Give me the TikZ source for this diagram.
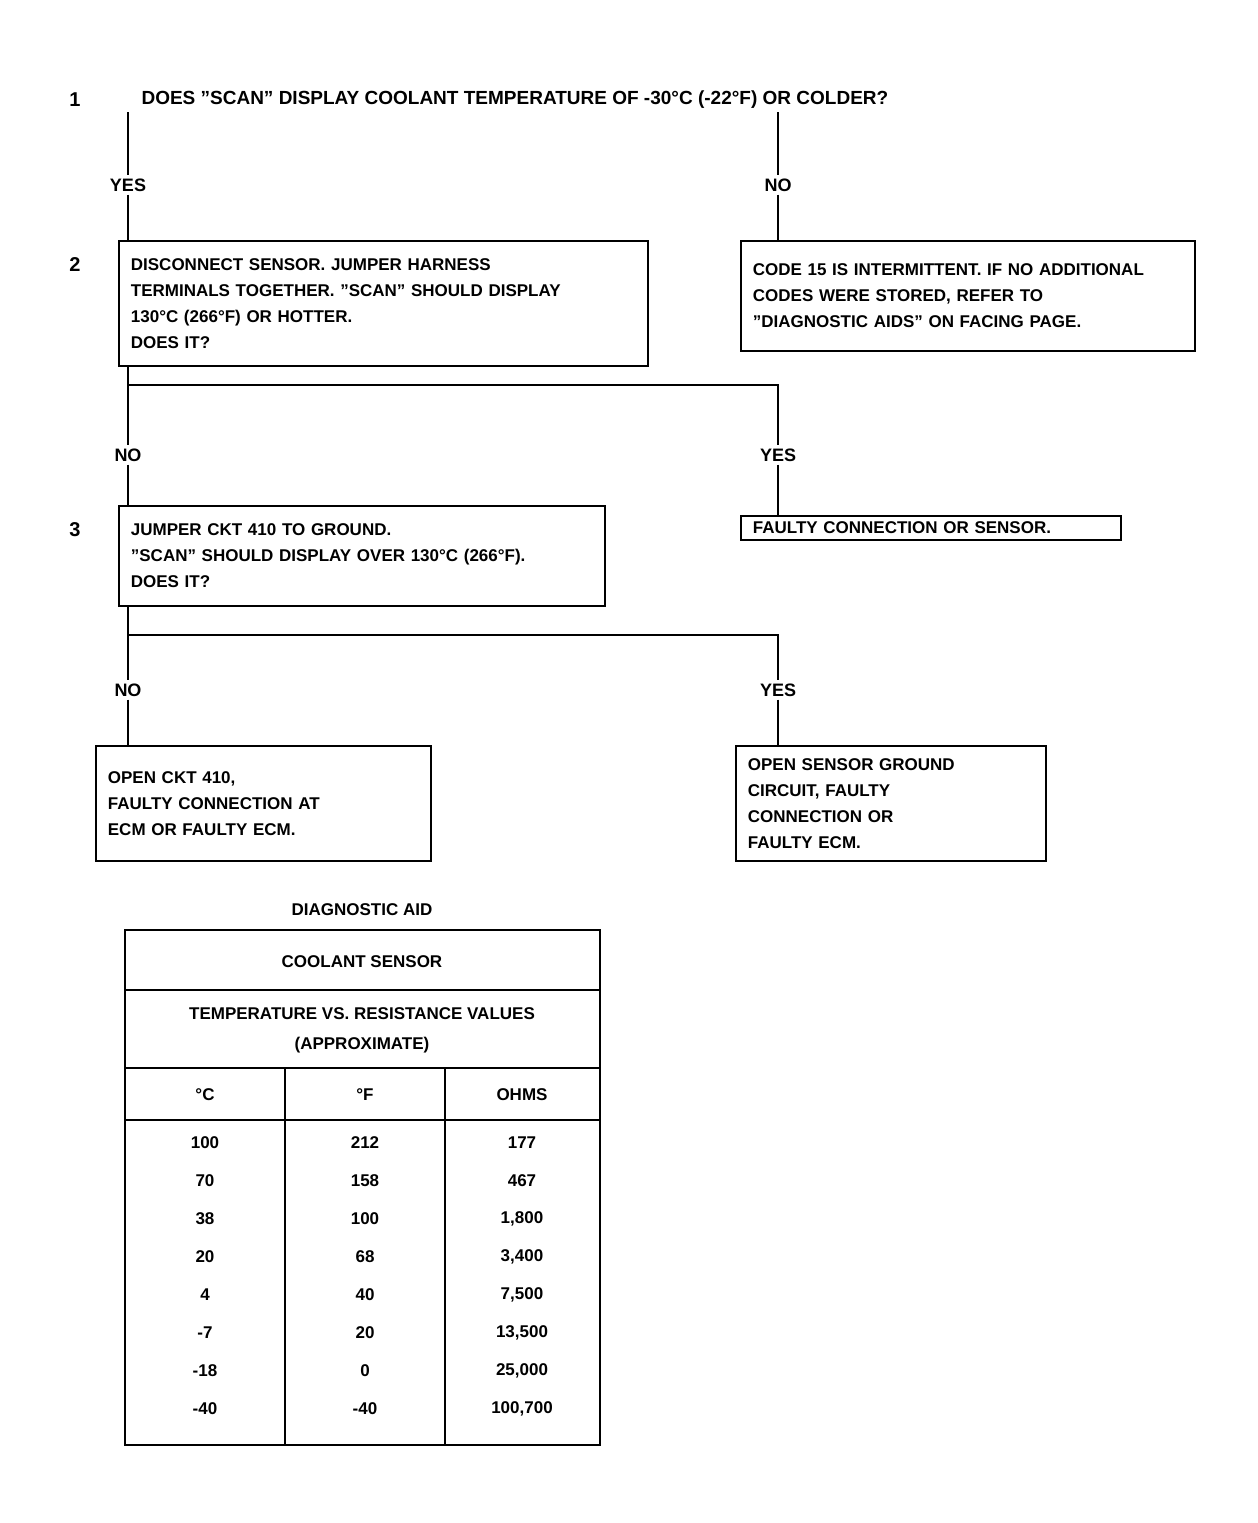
\documentclass[tikz,border=0pt]{standalone}
\usepackage{fontspec}
\setmainfont{Liberation Sans}
\usetikzlibrary{positioning}

\tikzset{
  chartbox/.style={draw, line width=1.8pt, align=left, anchor=north west,
    inner xsep=12pt, inner ysep=8pt, font=\bfseries\fontsize{17}{26}\selectfont},
  yesno/.style={fill=white, inner sep=3pt, font=\bfseries\fontsize{18}{20}\selectfont},
  stepnum/.style={font=\bfseries\fontsize{20}{22}\selectfont},
  flow/.style={line width=1.8pt},
  cell/.style={font=\bfseries\fontsize{17}{20}\selectfont}
}

\begin{document}
\begin{tikzpicture}[x=1pt, y=-1pt]
    \useasboundingbox[fill=white] (0,0) rectangle (1258,1523);

    % question 1 and its branches
    \node[stepnum] (s1) at (75,100) {1};
    \node[anchor=west, font=\bfseries\fontsize{19}{24}\selectfont] (q1) at (138,100)
        {DOES "SCAN" DISPLAY COOLANT TEMPERATURE OF -30°C (-22°F) OR COLDER?};
    \node[yesno] (y1) at (128,185) {YES};
    \node[yesno] (n1) at (778,185) {NO};

    \node[stepnum] (s2) at (75,265) {2};
    \node[chartbox, text width=505pt, minimum height=125pt] (b1) at (118,240)
        {DISCONNECT SENSOR. JUMPER HARNESS\\
         TERMINALS TOGETHER. "SCAN" SHOULD DISPLAY\\
         130°C (266°F) OR HOTTER.\\
         DOES IT?};
    \node[chartbox, text width=430pt, minimum height=110pt] (r1) at (740,240)
        {CODE 15 IS INTERMITTENT. IF NO ADDITIONAL\\
         CODES WERE STORED, REFER TO\\
         "DIAGNOSTIC AIDS" ON FACING PAGE.};

    \draw[flow] (q1.south -| y1) -- (y1.north);
    \draw[flow] (y1.south) -- (y1 |- b1.north);
    \draw[flow] (q1.south -| n1) -- (n1.north);
    \draw[flow] (n1.south) -- (n1 |- r1.north);

    % question 2 and its branches
    \coordinate (bar1) at (0,385);
    \node[yesno] (n2) at (128,455) {NO};
    \node[yesno] (y2) at (778,455) {YES};

    \node[stepnum] (s3) at (75,530) {3};
    \node[chartbox, text width=462pt, minimum height=100pt] (b2) at (118,505)
        {JUMPER CKT 410 TO GROUND.\\
         "SCAN" SHOULD DISPLAY OVER 130°C (266°F).\\
         DOES IT?};
    \node[chartbox, inner ysep=6pt, text width=356pt] (r2) at (740,515)
        {FAULTY CONNECTION OR SENSOR.};

    \draw[flow] (b1.south -| n2) -- (bar1 -| n2) -- (n2.north);
    \draw[flow] (bar1 -| n2) -- (bar1 -| y2) -- (y2.north);
    \draw[flow] (n2.south) -- (n2 |- b2.north);
    \draw[flow] (y2.south) -- (y2 |- r2.north);

    % question 3 and its branches
    \coordinate (bar2) at (0,635);
    \node[yesno] (n3) at (128,690) {NO};
    \node[yesno] (y3) at (778,690) {YES};

    \node[chartbox, text width=311pt, minimum height=115pt] (b3) at (95,745)
        {OPEN CKT 410,\\
         FAULTY CONNECTION AT\\
         ECM OR FAULTY ECM.};
    \node[chartbox, text width=286pt, minimum height=115pt] (r3) at (735,745)
        {OPEN SENSOR GROUND\\
         CIRCUIT, FAULTY\\
         CONNECTION OR\\
         FAULTY ECM.};

    \draw[flow] (b2.south -| n3) -- (bar2 -| n3) -- (n3.north);
    \draw[flow] (bar2 -| n3) -- (bar2 -| y3) -- (y3.north);
    \draw[flow] (n3.south) -- (n3 |- b3.north);
    \draw[flow] (y3.south) -- (y3 |- r3.north);

    % diagnostic aid table
    \node[cell] (aid) at (362,910) {DIAGNOSTIC AID};
    \coordinate (tnw) at (125,930);
    \coordinate (tse) at (600,1445);
    \draw[flow] (tnw) rectangle (tse);
    \draw[flow] (125,990) -- (600,990);
    \draw[flow] (125,1068) -- (600,1068);
    \draw[flow] (125,1120) -- (600,1120);
    \draw[flow] (285,1068) -- (285,1445);
    \draw[flow] (445,1068) -- (445,1445);
    \node[cell] (sensor) at (362,962) {COOLANT SENSOR};
    \node[cell] (tvr) at (362,1014) {TEMPERATURE VS. RESISTANCE VALUES};
    \node[cell] (approx) at (362,1045) {(APPROXIMATE)};
    \node[cell] (hc) at (205,1095) {°C};
    \node[cell] (hf) at (365,1095) {°F};
    \node[cell] (ho) at (522,1095) {OHMS};
    \foreach \c/\f/\o [count=\i] in {100/212/177, 70/158/467, 38/100/{1,800},
        20/68/{3,400}, 4/40/{7,500}, -7/20/{13,500}, -18/0/{25,000}, -40/-40/{100,700}} {
        \node[cell] (c\i) at (205,1105+\i*38) {\c};
        \node[cell] (f\i) at (365,1105+\i*38) {\f};
        \node[cell] (o\i) at (522,1105+\i*38) {\o};
    }
\end{tikzpicture}
\end{document}
